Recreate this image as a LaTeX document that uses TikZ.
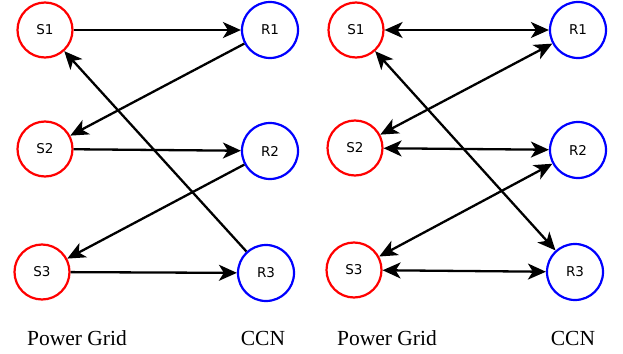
\documentclass[tikz,border=0pt]{standalone}
\usepackage{fontspec}
\setmainfont{Liberation Serif}
\newfontfamily\nodefont{DejaVu Sans}
\usetikzlibrary{arrows.meta}
\begin{document}
\begin{tikzpicture}[x=1pt,y=-1pt,
  snode/.style={circle,draw=red,line width=2.2pt,minimum size=55pt,inner sep=0pt,font=\nodefont\fontsize{13.5}{15}\selectfont},
  rnode/.style={circle,draw=blue,line width=2.2pt,minimum size=56pt,inner sep=0pt,font=\nodefont\fontsize{13.5}{15}\selectfont},
  conn/.style={line width=2.3pt,-{Stealth[length=18pt,width=16pt,inset=5pt]}},
  bconn/.style={line width=2.3pt,{Stealth[length=18pt,width=16pt,inset=5pt]}-{Stealth[length=18pt,width=16pt,inset=5pt]}},
  lab/.style={font=\fontsize{21.5}{24}\selectfont}]
\useasboundingbox (0,0) rectangle (623,353);
% left panel
\node[snode] (aS1) at (45,30) {S1};
\node[snode] (aS2) at (45,149) {S2};
\node[snode] (aS3) at (42,272) {S3};
\node[rnode] (aR1) at (270,30) {R1};
\node[rnode] (aR2) at (270,151) {R2};
\node[rnode] (aR3) at (266,273) {R3};
\draw[conn] (aS1) -- (aR1);
\draw[conn] (aR1) -- (aS2);
\draw[conn] (aS2) -- (aR2);
\draw[conn] (aR2) -- (aS3);
\draw[conn] (aS3) -- (aR3);
\draw[conn] (aR3) -- (aS1);
\node[lab] (aPG) at (77,338) {Power Grid};
\node[lab] (aCCN) at (263,338) {CCN};
% right panel
\node[snode] (bS1) at (356,30) {S1};
\node[snode] (bS2) at (355,148) {S2};
\node[snode] (bS3) at (354,270) {S3};
\node[rnode] (bR1) at (578,30) {R1};
\node[rnode] (bR2) at (578,150) {R2};
\node[rnode] (bR3) at (575,272) {R3};
\draw[bconn] (bS1) -- (bR1);
\draw[bconn] (bR1) -- (bS2);
\draw[bconn] (bS2) -- (bR2);
\draw[bconn] (bR2) -- (bS3);
\draw[bconn] (bS3) -- (bR3);
\draw[bconn] (bR3) -- (bS1);
\node[lab] (bPG) at (387,338) {Power Grid};
\node[lab] (bCCN) at (573,338) {CCN};
\end{tikzpicture}
\end{document}
